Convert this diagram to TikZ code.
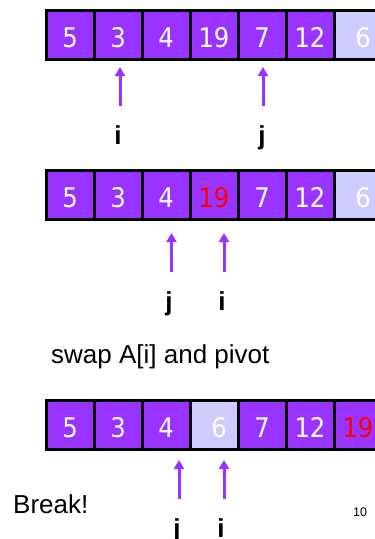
\documentclass[tikz,border=0pt]{standalone}
\usepackage{fontspec}
\setmainfont{Liberation Sans}
\newfontfamily\cellfont{DejaVu Sans Condensed}
\usetikzlibrary{arrows.meta}
\definecolor{cellpurple}{HTML}{9933FF}
\definecolor{pivotlav}{HTML}{CCCCFF}
\definecolor{ptrpurple}{HTML}{9933FF}
\tikzset{
  cellbox/.style={draw=black, line width=3pt, fill=cellpurple, text=white,
    minimum width=48pt, minimum height=49pt, inner sep=0pt, outer sep=0pt,
    text height=25pt, text depth=0pt, anchor=north west,
    font=\cellfont\fontsize{27}{27}\selectfont},
  plain/.style={},
  pivot/.style={fill=pivotlav},
  hot/.style={text=red},
  pointer/.style={draw=ptrpurple, line width=3pt, -{Triangle[width=10pt,length=9pt]}},
  ptrlabel/.style={anchor=base, inner sep=0pt, font=\bfseries\fontsize{26}{26}\selectfont},
  caption/.style={anchor=base west, inner sep=0pt, font=\fontsize{26}{26}\selectfont},
}
% one row of the array: #1 = row name, #2 = top edge, #3 = value/style list
\newcommand\arrayrow[3]{%
  \foreach \v/\s [count=\k from 0] in {#3} {
    \node[cellbox,\s] (#1\k) at ({46+48*\k}, #2) {\v};
  }%
}
\begin{document}
\begin{tikzpicture}[x=1pt, y=-1pt]
  \useasboundingbox (0,0) rectangle (375,539);

  % row 1: i and j scanning
  \arrayrow{a}{10}{5/plain,3/plain,4/plain,19/plain,7/plain,12/plain,{\hspace*{10pt}6}/pivot}
  \coordinate (ai0) at (120,106); \coordinate (ai1) at (120,67);
  \coordinate (aj0) at (263,106); \coordinate (aj1) at (263,67);
  \draw[pointer] (ai0) -- (ai1);
  \draw[pointer] (aj0) -- (aj1);
  \node[ptrlabel] (ali) at (118,144) {i};
  \node[ptrlabel] (alj) at (262,144) {j};

  % row 2: pointers have crossed
  \arrayrow{b}{170}{5/plain,3/plain,4/plain,19/hot,7/plain,12/plain,{\hspace*{10pt}6}/pivot}
  \coordinate (bj0) at (171.5,272); \coordinate (bj1) at (171.5,233);
  \coordinate (bi0) at (224,272); \coordinate (bi1) at (224,233);
  \draw[pointer] (bj0) -- (bj1);
  \draw[pointer] (bi0) -- (bi1);
  \node[ptrlabel] (blj) at (169,310) {j};
  \node[ptrlabel] (bli) at (222,310) {i};

  \node[caption] (swap) at (51,363) {swap A[i] and pivot};

  % row 3: after the swap
  \arrayrow{c}{400}{5/plain,3/plain,4/plain,{\hspace*{10pt}6}/pivot,7/plain,12/plain,19/hot}
  \coordinate (cj0) at (179,499); \coordinate (cj1) at (179,460);
  \coordinate (ci0) at (224,499); \coordinate (ci1) at (224,460);
  \draw[pointer] (cj0) -- (cj1);
  \draw[pointer] (ci0) -- (ci1);
  \node[ptrlabel] (clj) at (177,537) {j};
  \node[ptrlabel] (cli) at (221,537) {i};

  \node[caption] (brk) at (13,513) {Break!};
  \node[anchor=base west, inner sep=0pt, font=\fontsize{12.5}{12.5}\selectfont] (pg) at (353,516) {10};
\end{tikzpicture}
\end{document}
